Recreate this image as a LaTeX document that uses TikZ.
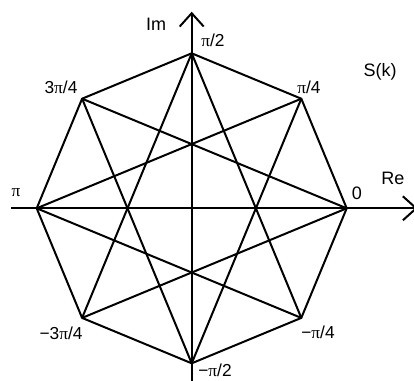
\documentclass[tikz,border=0pt]{standalone}
\usepackage{fontspec}
\setmainfont{Liberation Sans}
\newfontfamily\greekfont{Liberation Serif}
\usetikzlibrary{arrows.meta}
\newcommand{\pii}{{\greekfont π}}

\begin{document}
\begin{tikzpicture}[
  x=0.75pt, y=0.75pt,
  edge/.style={line width=1.5pt, line join=round},
  axisline/.style={line width=1.5pt, -{Straight Barb[length=10pt,width=18pt]}},
  lbl/.style={font=\fontsize{13.5}{15}\selectfont, inner sep=0pt},
  ang/.style={font=\fontsize{13}{15}\selectfont, inner sep=0pt}
]
\useasboundingbox (-191.7,-171.7) rectangle (222.3,208.3);
\clip (-191.7,-171.7) rectangle (222.3,208.3);

% Vertices del octagono
\foreach \i in {0,...,7}
  \coordinate (v\i) at (\i*45:155);

% Ejes
\coordinate (reL) at (-180.7,0);
\coordinate (reR) at (226,0);
\coordinate (imB) at (0,-185);
\coordinate (imT) at (0,196.6);
\draw[axisline] (reL) -- (reR);
\draw[axisline] (imB) -- (imT);

% Octagono
\draw[edge] (v0) -- (v1) -- (v2) -- (v3) -- (v4) -- (v5) -- (v6) -- (v7) -- cycle;

% Estrella
\foreach \i [evaluate=\i as \j using {int(mod(\i+3,8))}] in {0,...,7}
  \draw[edge] (v\i) -- (v\j);

% Etiquetas de ejes
\node[lbl] (im) at (-35.7,184.3) {Im};
\node[lbl] (re) at (201.3,30.3) {Re};
\node[lbl] (sk) at (188.3,136.3) {S(k)};

% Etiquetas de fase
\node[lbl] (a0) at (165.3,15.3) {0};
\node[ang] (a1) at (117.3,121.3) {\pii/4};
\node[ang] (a2) at (21.3,168.3) {\pii/2};
\node[ang] (a3) at (-130.7,121.3) {3\pii/4};
\node[ang] (a4) at (-175.7,15.3) {\pii};
\node[ang] (a5) at (-130.7,-124.7) {−3\pii/4};
\node[ang] (a6) at (23.3,-162) {−\pii/2};
\node[ang] (a7) at (126.3,-123.7) {−\pii/4};
\end{tikzpicture}
\end{document}
